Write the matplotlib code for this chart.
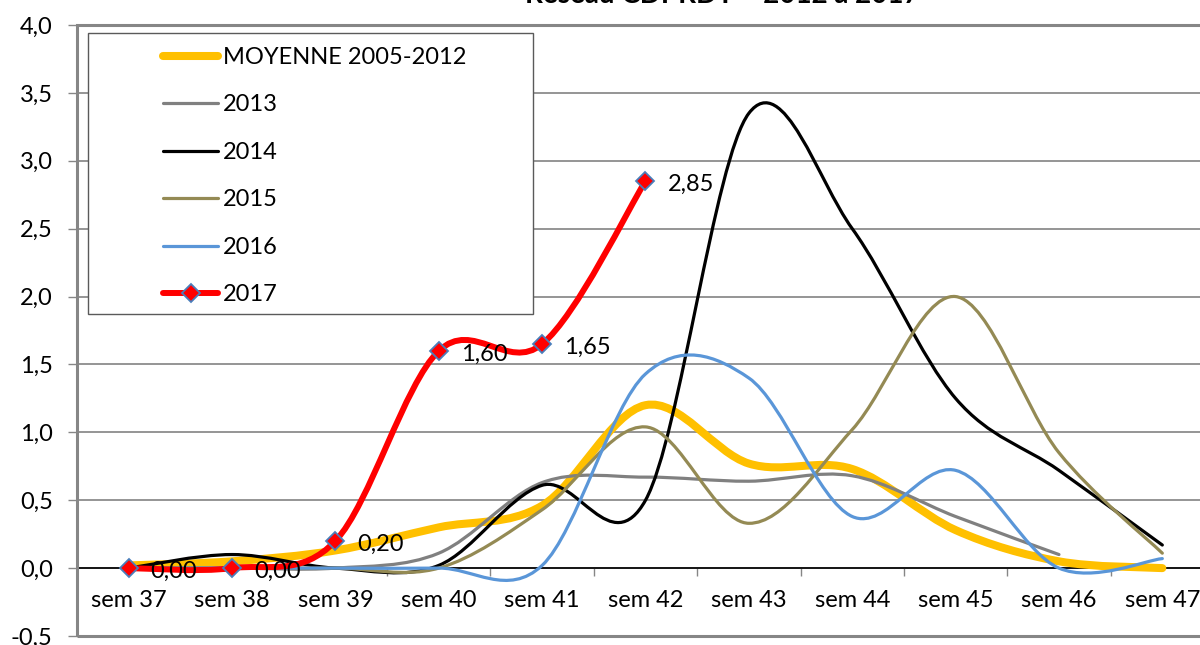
import numpy as np
import matplotlib
matplotlib.use("Agg")
import matplotlib.pyplot as plt
from matplotlib.path import Path
from matplotlib.patches import PathPatch, Rectangle
from matplotlib.lines import Line2D

plt.rcParams['font.family'] = ['Lato', 'DejaVu Sans']

# data
weeks = [37, 38, 39, 40, 41, 42, 43, 44, 45, 46, 47]
week_labels = ["sem %d" % w for w in weeks]

moyenne = [0.02, 0.05, 0.13, 0.30, 0.46, 1.20, 0.77, 0.73, 0.28, 0.05, 0.00]
y2013 = [0.00, 0.00, 0.00, 0.11, 0.63, 0.67, 0.64, 0.68, 0.38, 0.10]
y2014 = [0.00, 0.10, 0.00, 0.02, 0.61, 0.50, 3.35, 2.50, 1.25, 0.72, 0.17]
y2015 = [0.00, 0.00, 0.00, 0.00, 0.43, 1.04, 0.33, 1.02, 2.00, 0.85, 0.11]
y2016 = [0.00, 0.00, 0.00, 0.00, 0.02, 1.43, 1.40, 0.38, 0.72, 0.00, 0.07]
y2017 = [0.00, 0.00, 0.20, 1.60, 1.65, 2.85]

series = [
    ("MOYENNE 2005-2012", moyenne, "#FFC000", 5.8),
    ("2013", y2013, "#808080", 2.3),
    ("2014", y2014, "#000000", 2.3),
    ("2015", y2015, "#948A54", 2.3),
    ("2016", y2016, "#5A96D8", 2.3),
    ("2017", y2017, "#FF0000", 4.3),
]

FS = 17


def smooth_path(xs, ys):
    """Excel-like smoothed line as cubic Bezier segments"""
    pts = np.column_stack([xs, ys]).astype(float)
    n = len(pts)
    verts = [pts[0]]
    codes = [Path.MOVETO]
    for i in range(n - 1):
        p0 = pts[max(i - 1, 0)]
        p1 = pts[i]
        p2 = pts[i + 1]
        p3 = pts[min(i + 2, n - 1)]
        c1 = p1 + (p2 - p0) / 6.0
        c2 = p2 - (p3 - p1) / 6.0
        verts += [c1, c2, p2]
        codes += [Path.CURVE4] * 3
    return Path(verts, codes)


fig = plt.figure(figsize=(12, 6.45), dpi=100)
W, H = 1200.0, 645.0
ax = fig.add_axes([77 / W, 9 / H, (1214 - 77) / W, (636 - 25) / H])

ax.set_xlim(36.5, 47.5)
ax.set_ylim(-0.5, 4.0)

handles = []
for name, vals, color, lw in series:
    xs = weeks[:len(vals)]
    patch = PathPatch(smooth_path(xs, vals), fill=False, edgecolor=color,
                      linewidth=lw, capstyle='round', joinstyle='round', zorder=3)
    ax.add_patch(patch)
    if name == "2017":
        ax.plot(xs, vals, linestyle='none', marker='D', markersize=9,
                markerfacecolor='#FF0000', markeredgecolor='#4A7EBB',
                markeredgewidth=1.3, zorder=4)
        handles.append(Line2D([], [], color=color, lw=lw, marker='D',
                              markersize=9, markerfacecolor='#FF0000',
                              markeredgecolor='#4A7EBB', markeredgewidth=1.3,
                              solid_capstyle='round'))
        for x, v in zip(xs, vals):
            ax.annotate(("%.2f" % v).replace('.', ','), (x, v),
                        xytext=(22, -3), textcoords='offset pixels',
                        ha='left', va='center', fontsize=FS, zorder=5)
    else:
        handles.append(Line2D([], [], color=color, lw=lw, solid_capstyle='round'))

# y axis
yticks = np.arange(-0.5, 4.01, 0.5)
ax.set_yticks(yticks)
ax.set_yticklabels([("%.1f" % t).replace('.', ',') for t in yticks], fontsize=FS)
ax.tick_params(axis='y', direction='out', length=6.5, width=1, color='#868686', pad=11)
ax.grid(axis='y', color='#8C8C8C', linewidth=1.3, zorder=1)
ax.set_axisbelow(True)

# x axis at zero
ax.spines['bottom'].set_position(('data', 0))
ax.spines['bottom'].set_color('black')
ax.spines['bottom'].set_linewidth(1.2)
for s in ['top', 'right', 'left']:
    ax.spines[s].set_visible(False)
ax.set_xticks(np.arange(37.5, 47.6, 1.0))
ax.set_xticklabels([])
ax.set_xticks(weeks, minor=True)
ax.set_xticklabels(week_labels, minor=True, fontsize=FS)
ax.tick_params(axis='x', which='major', direction='out', length=5.5, width=1, color='#868686')
ax.tick_params(axis='x', which='minor', length=0, pad=16)

# plot area border
ax.add_patch(Rectangle((0, 0), 1, 1, transform=ax.transAxes, fill=False,
                       edgecolor='#868686', linewidth=2.2, clip_on=False, zorder=6))

# legend box
ax.add_patch(Rectangle((88 / W, 1 - 314 / H), 445 / W, 281 / H,
                       transform=fig.transFigure, facecolor='white',
                       edgecolor='#5A5A5A', linewidth=1, clip_on=False, zorder=7))
leg = ax.legend(handles, [s[0] for s in series], loc='upper left',
                bbox_to_anchor=(163 / W, 1 - 47 / H), bbox_transform=fig.transFigure,
                frameon=False, fontsize=FS, handlelength=2.35, handletextpad=0.2,
                labelspacing=1.12, borderpad=0, borderaxespad=0)
leg.set_zorder(8)

# title (cut off at the top in the original)
fig.text(722 / W, 1 - 3 / H, "Réseau CDPRDT – 2012 à 2017", ha='center', va='baseline',
         fontsize=20, fontweight='bold')

fig.savefig("out.png", dpi=100)
